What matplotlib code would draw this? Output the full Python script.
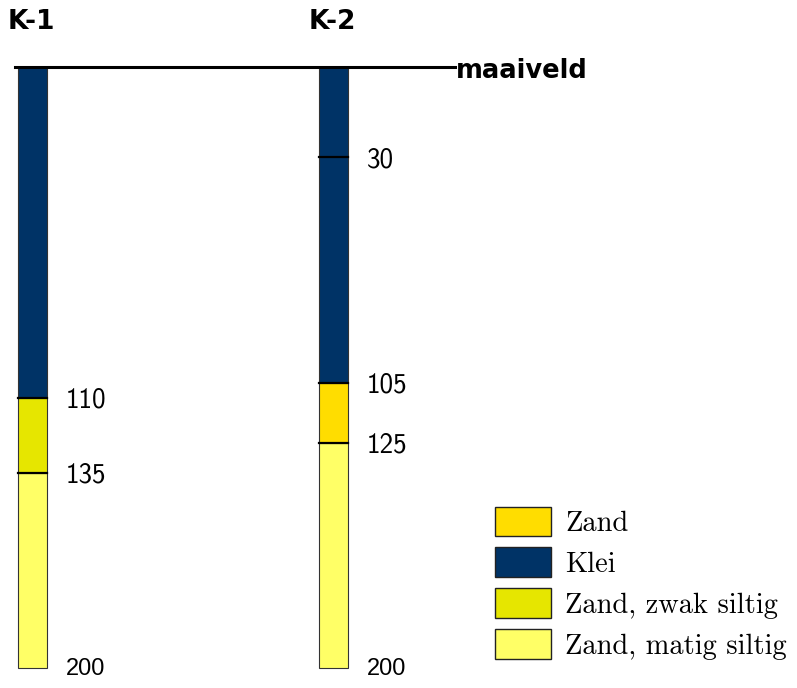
import numpy as np
import matplotlib.pyplot as plt
from matplotlib.patches import Patch

# boorprofielen K-1 en K-2 (diepte in cm onder maaiveld)
boringen = ["K-1", "K-2"]
k1_boven = [0, 110, 135]
k1_onder = [110, 135, 200]
k1_grond = ["Klei", "Zand, zwak siltig", "Zand, matig siltig"]
k2_boven = [0, 30, 105, 125]
k2_onder = [30, 105, 125, 200]
k2_grond = ["Klei", "Klei", "Zand", "Zand, matig siltig"]

legenda = ["Zand", "Klei", "Zand, zwak siltig", "Zand, matig siltig"]
kleuren = {"Zand": "#ffdd00", "Klei": "#003366",
           "Zand, zwak siltig": "#e6e600", "Zand, matig siltig": "#ffff66"}

fig = plt.figure(figsize=(7.97, 6.88), dpi=100)
ax = fig.add_axes([0, 0, 1, 1])
ax.set_xlim(0, 797)
px = 601 / 200.0  # pixels per cm
ax.set_ylim((688 - 67) / px, -67 / px)
ax.axis("off")

xpos = [18, 319]   # linkerkant kolom
breedte = 29

profielen = [(k1_boven, k1_onder, k1_grond), (k2_boven, k2_onder, k2_grond)]
for naam, x0, (boven, onder, grond) in zip(boringen, xpos, profielen):
    for b, o, g in zip(boven, onder, grond):
        ax.bar(x0, o - b, bottom=b, width=breedte, align="edge",
               color=kleuren[g], edgecolor="#333333", linewidth=0.8)
    for i, o in enumerate(onder):
        if i < len(onder) - 1:
            ax.plot([x0, x0 + breedte], [o, o], color="black", lw=1.6)
            ax.text(x0 + breedte + 19, o + 0.8, str(o), family="cmss10",
                    fontsize=19.5, va="center", ha="left")
        else:
            ax.text(x0 + breedte + 19, o + 0.3, str(o), family="Liberation Sans",
                    fontsize=17, va="center", ha="left")
    ax.text(x0 - 10, -67 / px + 22 / px, naam, fontsize=19, fontweight="bold",
            va="center", ha="left", family="DejaVu Sans")

# maaiveld
ax.plot([15, 455], [0, 0], color="black", lw=2.2)
ax.text(456, 1.2, "maaiveld", fontsize=18.5, fontweight="bold", va="center",
        ha="left", family="DejaVu Sans")

handles = [Patch(facecolor=kleuren[n], edgecolor="#222222", linewidth=1) for n in legenda]
leg = ax.legend(handles, legenda, loc="lower left", bbox_to_anchor=(484 / 797, 17 / 688),
                frameon=False, prop={"family": "cmr10", "size": 20.5},
                handlelength=1.95, handleheight=1.22, handletextpad=0.5,
                labelspacing=0.37, borderaxespad=0)

fig.savefig("out.png", dpi=100)
